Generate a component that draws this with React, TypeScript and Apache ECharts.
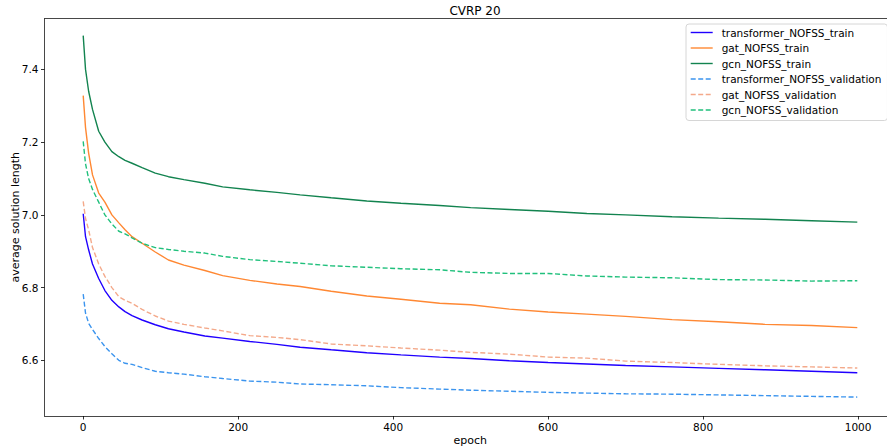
import React, { useEffect, useRef } from "react";
import * as echarts from "echarts";

const epochs = [0, 3, 7, 12, 20, 28, 37, 46, 54, 63, 76, 93, 110, 130, 157, 180, 215, 250, 280, 320, 366, 410, 460, 500, 550, 600, 650, 700, 760, 820, 880, 940, 999];

const transformerTrain = [7.003, 6.94, 6.904, 6.865, 6.825, 6.792, 6.765, 6.747, 6.734, 6.723, 6.711, 6.698, 6.687, 6.678, 6.667, 6.661, 6.652, 6.644, 6.636, 6.629, 6.621, 6.615, 6.609, 6.605, 6.599, 6.594, 6.59, 6.586, 6.582, 6.578, 6.574, 6.57, 6.566];
const gatTrain = [7.328, 7.24, 7.17, 7.11, 7.06, 7.035, 7.0, 6.978, 6.959, 6.94, 6.922, 6.898, 6.876, 6.862, 6.847, 6.833, 6.82, 6.81, 6.803, 6.79, 6.777, 6.768, 6.757, 6.753, 6.741, 6.733, 6.727, 6.721, 6.712, 6.706, 6.699, 6.696, 6.69];
const gcnTrain = [7.493, 7.4, 7.34, 7.29, 7.23, 7.2, 7.174, 7.16, 7.15, 7.142, 7.13, 7.115, 7.105, 7.097, 7.087, 7.077, 7.069, 7.062, 7.055, 7.047, 7.038, 7.032, 7.026, 7.02, 7.015, 7.01, 7.004, 7.0, 6.995, 6.991, 6.988, 6.984, 6.98];
const transformerVal = [6.782, 6.73, 6.702, 6.685, 6.66, 6.638, 6.618, 6.6, 6.592, 6.589, 6.58, 6.57, 6.566, 6.562, 6.555, 6.55, 6.543, 6.54, 6.535, 6.533, 6.53, 6.525, 6.521, 6.518, 6.515, 6.512, 6.51, 6.508, 6.507, 6.505, 6.503, 6.501, 6.499];
const gatVal = [7.037, 6.99, 6.959, 6.91, 6.865, 6.831, 6.8, 6.775, 6.765, 6.757, 6.74, 6.722, 6.708, 6.699, 6.689, 6.681, 6.668, 6.663, 6.657, 6.645, 6.64, 6.634, 6.628, 6.622, 6.617, 6.609, 6.606, 6.598, 6.594, 6.589, 6.585, 6.582, 6.579];
const gcnVal = [7.202, 7.14, 7.1, 7.07, 7.035, 7.0, 6.975, 6.955, 6.948, 6.937, 6.922, 6.91, 6.905, 6.9, 6.895, 6.886, 6.877, 6.872, 6.867, 6.86, 6.856, 6.852, 6.849, 6.842, 6.839, 6.839, 6.832, 6.829, 6.827, 6.822, 6.821, 6.818, 6.819];

const xTicks = [0, 200, 400, 600, 800, 1000];
const yTicks = [6.6, 6.8, 7.0, 7.2, 7.4];

const seriesDefs = [
  { name: "transformer_NOFSS_train", values: transformerTrain, color: "#2000ff", dashed: false },
  { name: "gat_NOFSS_train", values: gatTrain, color: "#ff8833", dashed: false },
  { name: "gcn_NOFSS_train", values: gcnTrain, color: "#12834f", dashed: false },
  { name: "transformer_NOFSS_validation", values: transformerVal, color: "#3b94ee", dashed: true },
  { name: "gat_NOFSS_validation", values: gatVal, color: "#f4a98a", dashed: true },
  { name: "gcn_NOFSS_validation", values: gcnVal, color: "#20c07c", dashed: true },
];

const FONT = "DejaVu Sans";
const SPINE = { show: true, onZero: false, lineStyle: { color: "#333", width: 0.9 } };

export default function App() {
  const ref = useRef<HTMLDivElement>(null);
  useEffect(() => {
    if (!ref.current) return;
    const chart = echarts.init(ref.current, undefined, { renderer: "svg" });
    chart.setOption({
      animation: false,
      backgroundColor: "#ffffff",
      title: {
        text: "CVRP 20",
        left: 470,
        top: 0,
        textAlign: "center",
        textStyle: { fontFamily: FONT, fontSize: 12, fontWeight: "normal", color: "#000" },
      },
      legend: {
        orient: "vertical",
        left: 686,
        top: 24,
        padding: [3, 6, 5, 4],
        itemWidth: 22,
        itemHeight: 12,
        itemGap: 4.5,
        backgroundColor: "rgba(255,255,255,0.8)",
        borderColor: "#d6d6d6",
        borderWidth: 1,
        borderRadius: 3,
        itemStyle: { color: "transparent", borderColor: "transparent", borderWidth: 0, opacity: 0 },
        lineStyle: { width: 1.4 },
        textStyle: { fontFamily: FONT, fontSize: 10.5, color: "#000", padding: [0, 0, 0, 4] },
        data: seriesDefs.map((s) => s.name),
      },
      grid: {
        left: 44.5,
        top: 18.5,
        width: 851.5,
        height: 397.5,
        containLabel: false,
        outerBoundsMode: "none",
        show: false,
      },
      xAxis: [
        {
          type: "value",
          min: -49.95,
          max: 1048.95,
          name: "epoch",
          nameLocation: "middle",
          nameGap: 19,
          nameMoveOverlap: false,
          nameTextStyle: { fontFamily: FONT, fontSize: 11, color: "#000" },
          axisLine: SPINE,
          axisTick: { show: true, length: 3.5, lineStyle: { color: "#000", width: 0.8 }, customValues: xTicks },
          axisLabel: {
            fontFamily: FONT,
            fontSize: 10.5,
            color: "#000",
            margin: 5,
            customValues: xTicks,
            formatter: (v: number) => String(Math.round(v)),
          },
          splitLine: { show: false },
        },
        {
          type: "value",
          position: "top",
          min: -49.95,
          max: 1048.95,
          axisLine: SPINE,
          axisTick: { show: false },
          axisLabel: { show: false },
          splitLine: { show: false },
        },
      ],
      yAxis: {
        type: "value",
        min: 6.447,
        max: 7.54,
        name: "average solution length",
        nameLocation: "middle",
        nameRotate: 90,
        nameGap: 24,
        nameMoveOverlap: false,
        nameTextStyle: { fontFamily: FONT, fontSize: 11, color: "#000" },
        axisLine: SPINE,
        axisTick: { show: true, length: 3.5, lineStyle: { color: "#000", width: 0.8 }, customValues: yTicks },
        axisLabel: {
          fontFamily: FONT,
          fontSize: 10.5,
          color: "#000",
          margin: 6,
          customValues: yTicks,
          formatter: (v: number) => v.toFixed(1),
        },
        splitLine: { show: false },
      },
      series: seriesDefs.map((s) => ({
        name: s.name,
        type: "line",
        xAxisIndex: 0,
        symbol: "none",
        showSymbol: false,
        smooth: false,
        clip: true,
        color: s.color,
        lineStyle: { color: s.color, width: 1.4, type: s.dashed ? [5, 2.5] : "solid" },
        data: epochs.map((e, i) => [e, s.values[i]]),
      })),
    });
    return () => chart.dispose();
  }, []);
  return (
    <div
      ref={ref}
      style={{ position: "fixed", left: 0, top: 0, width: 887, height: 448, background: "#fff" }}
    />
  );
}
